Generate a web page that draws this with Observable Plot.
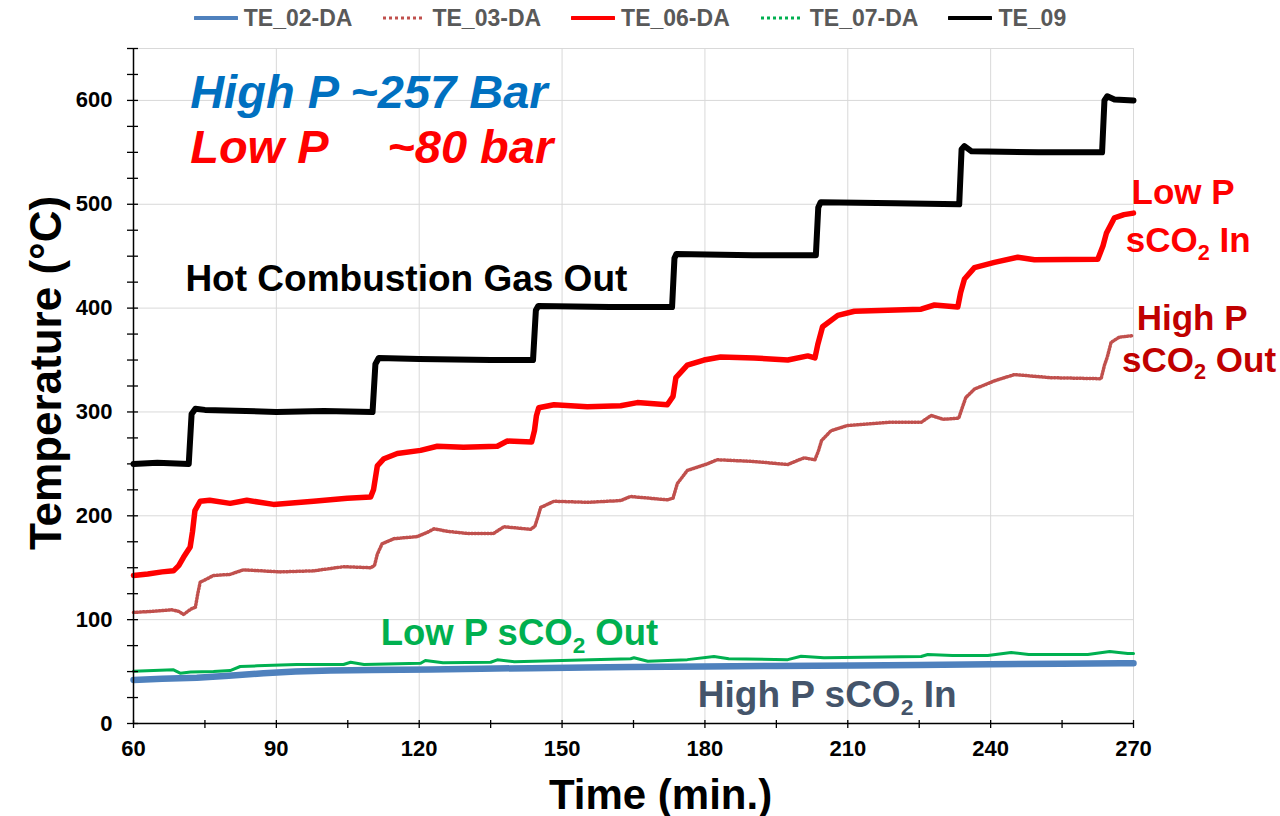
<!DOCTYPE html>
<html>
<head>
<meta charset="utf-8">
<script src="https://cdn.jsdelivr.net/npm/d3@7"></script>
<script src="https://cdn.jsdelivr.net/npm/@observablehq/plot@0.6"></script>
<style>
  body { margin: 0; background: #fff; font-family: "Liberation Sans", Arial, sans-serif; }
  #legend { height: 36px; display: flex; align-items: center; justify-content: center; padding-right: 20px; }
  .item { display: flex; align-items: center; margin: 0 15px; font-size: 23px; font-weight: bold; color: #595959; }
  .item svg { margin-right: 6px; }
</style>
</head>
<body>
<div id="legend"></div>
<div id="chart"></div>
<script>
// Thermocouple readings during the stepped heat-up (time in minutes, temperature in °C)

// TE_02-DA : high-pressure sCO2 inlet
const te02Time = [60, 66, 73.3, 80, 87.3, 94, 101.4, 110, 122.4, 133, 143.4, 155, 164.4, 180, 195, 211.4, 225, 240, 255, 267.4, 270];
const te02Temp = [42, 43, 44, 46, 48.4, 50, 51, 51.5, 52, 52.8, 53.3, 54, 54.5, 55, 55.4, 55.8, 56.4, 57, 57.5, 58, 58];

// TE_03-DA : high-pressure sCO2 outlet
const te03Time = [60, 64, 68, 69.5, 70.5, 72, 73, 73.5, 74, 76.8, 80.3, 83.1, 90.8, 97.8, 104.1, 109.8, 110.6, 111.2, 112.2, 114.7, 119.6, 121.7, 123.1, 126, 130.1, 135.6, 137.8, 143.4, 144.3, 145, 145.5, 148.3, 155.3, 162.3, 164.4, 172.1, 173.3, 174.2, 176.3, 180.5, 182.6, 190.3, 197.4, 200.8, 203.1, 203.8, 204.5, 206.5, 210, 218.4, 225.4, 227.5, 230, 233.3, 234.1, 234.8, 236.6, 240.8, 245, 252.7, 263.2, 263.9, 264.5, 265.3, 267, 270];
const te03Temp = [107, 108, 109.5, 108, 105, 110, 112, 125, 136, 142.5, 143.6, 148, 146, 147, 151, 150, 152, 163, 173, 178, 180, 184, 187.5, 185, 183, 183, 189.5, 187, 190, 200, 208, 214, 213, 214.7, 218.6, 215.4, 217, 231, 243.6, 250, 254, 252.3, 249.4, 255.8, 254, 262, 272.5, 282, 287, 290, 290, 296.6, 293, 294, 305, 314, 322, 330, 336, 333, 332, 345, 353, 367, 372, 373.6];

// TE_06-DA : low-pressure sCO2 inlet
const te06Time = [60, 63, 66, 68.4, 69.5, 70.5, 71.9, 72.4, 72.9, 74, 76, 80.3, 83.8, 89.4, 97.8, 104.9, 109.8, 110.4, 111.2, 112.6, 115.4, 120.3, 123.8, 129.3, 136.4, 138.5, 143.6, 144.2, 144.6, 145.1, 148.3, 155.3, 162.3, 165.8, 172.1, 173.3, 173.9, 176.3, 179.8, 183.3, 190.3, 197.4, 201.6, 203.1, 203.7, 204.7, 207.9, 211.4, 218.4, 225.4, 228.2, 233.1, 233.7, 234.5, 236.6, 240.8, 245.7, 249.2, 262.5, 263.6, 264.3, 266, 268, 270];
const te06Temp = [142.5, 144, 146, 147, 152, 160, 170, 185, 205, 214, 215, 212, 215, 211, 214, 217, 218, 225, 248, 255, 260, 263, 267, 266, 267, 272, 271, 282, 296, 304, 307, 305, 306, 309, 307, 315, 333, 345, 350, 353, 352, 350, 354, 352, 365, 382, 393, 397, 398, 399, 403, 401, 415, 428, 439, 444, 449, 446.5, 447, 460, 472, 487, 490, 491.5];

// TE_07-DA : low-pressure sCO2 outlet
const te07Time = [60, 68.4, 69.8, 72, 76.8, 80.3, 82.4, 86, 94.3, 104.1, 105.6, 108.4, 120.3, 121.3, 125, 135, 136.4, 140, 156, 164.4, 165.1, 168, 176.3, 181.9, 185, 197.4, 200.2, 205, 225.4, 226.8, 232, 239.4, 244.3, 248, 260.4, 265, 268.8, 270];
const te07Temp = [50.4, 51.7, 48.5, 49.5, 50, 51, 54.9, 55.5, 56.8, 56.8, 59, 56.8, 58, 60.7, 58.5, 59, 61.3, 59.5, 61.3, 62.3, 63.3, 60, 61.5, 64.5, 62.3, 61.5, 64.8, 63.3, 64.5, 66.4, 65.5, 65.5, 68.4, 66.4, 66.4, 69.3, 67.4, 67.4];

// TE_09 : hot combustion gas outlet
const te09Time = [60, 65, 71.6, 72.2, 73, 75, 90, 100, 110.2, 110.8, 111.5, 120, 135, 143.9, 144.5, 145, 160, 173.1, 173.6, 174, 190, 203.3, 203.8, 204.3, 220, 233.4, 233.9, 234.5, 236, 250, 263.4, 263.9, 264.5, 266, 270];
const te09Temp = [250, 251, 250, 298, 303, 302, 300, 301, 300, 346, 352, 351, 350, 350, 398, 402, 401, 401, 448, 452, 451, 451, 497, 502, 501, 500, 553, 556, 551, 550, 550, 600, 604, 601, 600];

// Axis ticks
const xMinorTicks = [60, 75, 90, 105, 120, 135, 150, 165, 180, 195, 210, 225, 240, 255, 270];
const xLabelTicks = [60, 90, 120, 150, 180, 210, 240, 270];
const yMinorTicks = [0, 25, 50, 75, 100, 125, 150, 175, 200, 225, 250, 275, 300, 325, 350, 375, 400, 425, 450, 475, 500, 525, 550, 575, 600, 625, 650];
const yLabelTicks = [0, 100, 200, 300, 400, 500, 600];

const seriesNames = ["TE_02-DA", "TE_03-DA", "TE_06-DA", "TE_07-DA", "TE_09"];
const seriesTimes = [te02Time, te03Time, te06Time, te07Time, te09Time];
const seriesTemps = [te02Temp, te03Temp, te06Temp, te07Temp, te09Temp];

// Line styling per series
const styles = {
  "TE_02-DA": {stroke: "#4F81BD", width: 6.5, dash: null, legendDash: null},
  "TE_03-DA": {stroke: "#C0504D", width: 3.5, dash: "1.2,2", legendDash: "3,3"},
  "TE_06-DA": {stroke: "#FF0000", width: 5.5, dash: null, legendDash: null},
  "TE_07-DA": {stroke: "#00B050", width: 3, dash: null, legendDash: "3,3"},
  "TE_09":    {stroke: "#000000", width: 6, dash: null, legendDash: null}
};

const rows = seriesNames.flatMap((name, i) =>
  seriesTimes[i].map((t, j) => ({series: name, t, v: seriesTemps[i][j]}))
);

// Legend
const legend = document.getElementById("legend");
for (const name of seriesNames) {
  const s = styles[name];
  const item = document.createElement("div");
  item.className = "item";
  item.innerHTML =
    `<svg width="44" height="10"><line x1="1" y1="5" x2="43" y2="5" stroke="${s.stroke}" stroke-width="${s.legendDash ? 3 : 4}"` +
    (s.legendDash ? ` stroke-dasharray="${s.legendDash}"` : ` stroke-linecap="round"`) + `/></svg><span>${name}</span>`;
  legend.appendChild(item);
}

const font = "'Liberation Sans', Arial, sans-serif";

const chart = Plot.plot({
  width: 1280,
  height: 780,
  marginTop: 12,
  marginBottom: 93,
  marginLeft: 133,
  marginRight: 147,
  style: {fontFamily: font, background: "#fff", overflow: "visible"},
  x: {domain: [60, 270], axis: null},
  y: {domain: [0, 650], axis: null},
  marks: [
    Plot.gridY(yLabelTicks.filter(d => d > 0).concat([650]), {stroke: "#d9d9d9", strokeOpacity: 1, strokeWidth: 1}),
    Plot.gridX(xLabelTicks.filter(d => d > 60), {stroke: "#d9d9d9", strokeOpacity: 1, strokeWidth: 1}),

    // data series
    ...seriesNames.map(name => Plot.line(rows.filter(r => r.series === name), {
      x: "t", y: "v",
      stroke: styles[name].stroke,
      strokeWidth: styles[name].width,
      strokeDasharray: styles[name].dash,
      strokeLinejoin: "round",
      strokeLinecap: "round"
    })),

    // axes: lines, crossing ticks, labels
    Plot.ruleX([60], {stroke: "#000", strokeWidth: 1.5}),
    Plot.ruleY([0], {stroke: "#000", strokeWidth: 1.5}),
    Plot.axisY({ticks: yMinorTicks, tickSize: 11, dx: 5, tickFormat: () => "", label: null, stroke: "#000", strokeWidth: 1.3}),
    Plot.axisX({ticks: xMinorTicks, tickSize: 8, dy: -3, tickFormat: () => "", label: null, stroke: "#000", strokeWidth: 1.3}),
    Plot.axisY({ticks: yLabelTicks, tickSize: 0, tickPadding: 21, fontSize: 22, fontWeight: "bold", fill: "#000", label: null}),
    Plot.axisX({ticks: xLabelTicks, tickSize: 0, tickPadding: 17, fontSize: 22, fontWeight: "bold", fill: "#000", label: null}),

    // axis titles
    Plot.text(["Temperature (°C)"], {frameAnchor: "left", textAnchor: "middle", lineAnchor: "middle", rotate: -90, dx: -87, dy: -13, fontSize: 44, fontWeight: "bold", fill: "#000"}),
    Plot.text(["Time (min.)"], {frameAnchor: "bottom", textAnchor: "middle", lineAnchor: "middle", dx: 27, dy: 72, fontSize: 42, fontWeight: "bold", fill: "#000"}),

    // pressure notes
    Plot.text(["High P ~257 Bar"], {x: 71.9, y: 607.6, textAnchor: "start", fontSize: 47, fontWeight: "bold", fontStyle: "italic", fill: "#0070C0"}),
    Plot.text(["Low P"], {x: 71.9, y: 554.7, textAnchor: "start", fontSize: 47, fontWeight: "bold", fontStyle: "italic", fill: "#FF0000"}),
    Plot.text(["~80 bar"], {x: 113.3, y: 554.7, textAnchor: "start", fontSize: 47, fontWeight: "bold", fontStyle: "italic", fill: "#FF0000"}),

    // stream labels
    Plot.text(["Hot Combustion Gas Out"], {x: 70.9, y: 427.5, textAnchor: "start", fontSize: 37, fontWeight: "bold", fill: "#000"}),
    Plot.text(["Low P sCO₂ Out"], {x: 111.9, y: 86.7, textAnchor: "start", fontSize: 36.5, fontWeight: "bold", fill: "#00B050"}),
    Plot.text(["High P sCO₂ In"], {x: 178.5, y: 27, textAnchor: "start", fontSize: 37, fontWeight: "bold", fill: "#44546A"}),
    Plot.text(["Low P"], {x: 269.5, y: 511, textAnchor: "middle", dx: 52, fontSize: 35, fontWeight: "bold", fill: "#FF0000"}),
    Plot.text(["sCO₂ In"], {x: 269.5, y: 465, textAnchor: "middle", dx: 57, fontSize: 35, fontWeight: "bold", fill: "#FF0000"}),
    Plot.text(["High P"], {x: 269.5, y: 390, textAnchor: "middle", dx: 61, fontSize: 35, fontWeight: "bold", fill: "#C00000"}),
    Plot.text(["sCO₂ Out"], {x: 269.5, y: 349.5, textAnchor: "middle", dx: 68, fontSize: 35, fontWeight: "bold", fill: "#C00000"})
  ]
});

document.getElementById("chart").appendChild(chart);

// Render the "₂" in CO₂ as a lowered, smaller digit
const ns = "http://www.w3.org/2000/svg";
for (const el of chart.querySelectorAll("text")) {
  const s = el.textContent;
  const i = s.indexOf("₂");
  if (i < 0 || el.children.length) continue;
  const size = parseFloat(getComputedStyle(el).fontSize);
  const shift = (size * 0.22).toFixed(1);
  el.textContent = s.slice(0, i);
  const sub = document.createElementNS(ns, "tspan");
  sub.setAttribute("font-size", (size * 0.62).toFixed(1));
  sub.setAttribute("dy", shift);
  sub.textContent = "2";
  const rest = document.createElementNS(ns, "tspan");
  rest.setAttribute("dy", -shift);
  rest.textContent = s.slice(i + 1);
  el.append(sub, rest);
}
</script>
</body>
</html>
